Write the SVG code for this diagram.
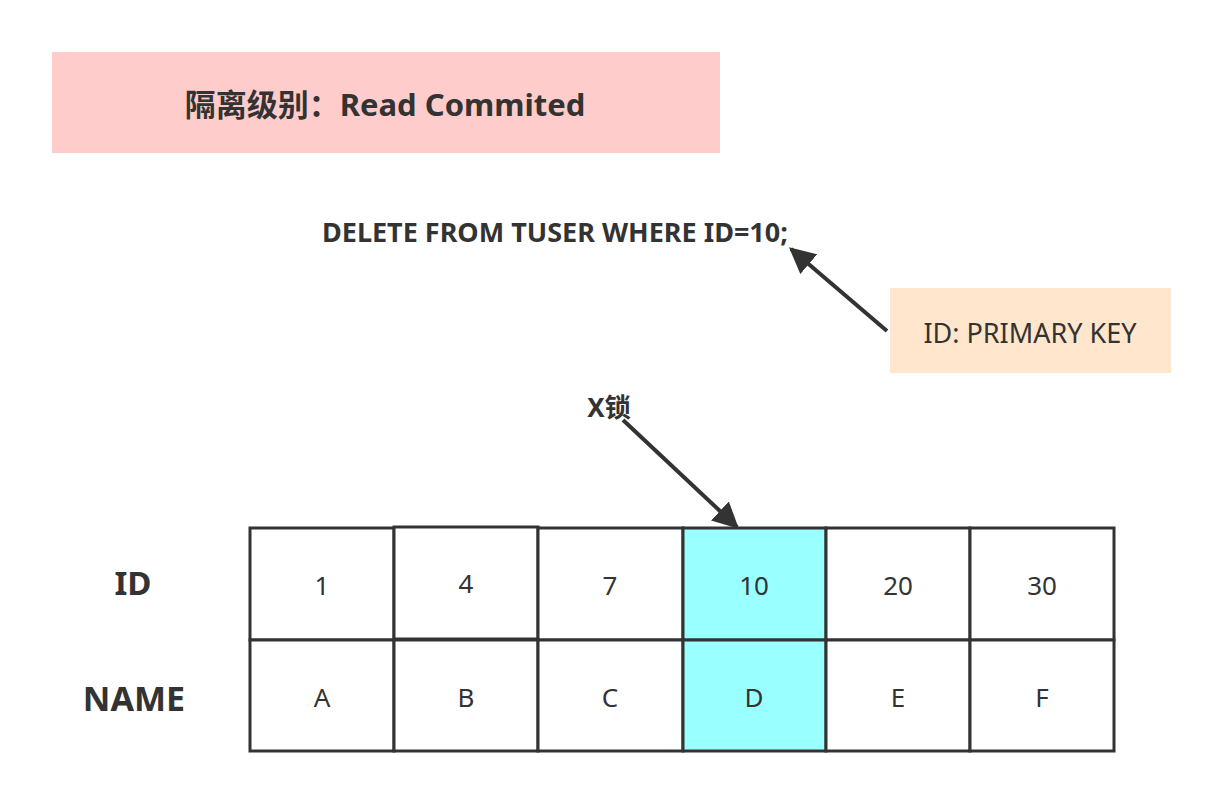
<svg xmlns="http://www.w3.org/2000/svg" width="1224" height="802" viewBox="0 0 1224 802">
<style>
text{font-family:"Noto Sans","Noto Sans CJK SC",sans-serif;fill:#333;text-anchor:middle;dominant-baseline:central}
.b{font-weight:bold}
.cell{fill:#fff;stroke:#333;stroke-width:3}
.hl{fill:#99FFFF}
.v{font-size:26px}
</style>
<defs>
<marker id="ah" viewBox="0 0 10 10" refX="9" refY="5" markerWidth="6.5" markerHeight="6.5" orient="auto" markerUnits="strokeWidth">
<path d="M0,0 L10,5 L0,10 Z" fill="#333"/>
</marker>
</defs>
<rect width="1224" height="802" fill="#fff"/>
<g id="title"><rect x="52" y="52" width="668" height="101" fill="#FFCCCC"/><text x="385" y="104" class="b" font-size="31">隔离级别：Read Commited</text></g>
<g id="sql"><text x="555" y="231" class="b" font-size="27">DELETE FROM TUSER WHERE ID=10;</text></g>
<g id="pk"><rect x="890" y="288" width="281" height="85" fill="#FFE6CC"/><text x="1030" y="332" font-size="27">ID: PRIMARY KEY</text></g>
<g id="xlock"><text x="609" y="407" class="b" font-size="26">X锁</text></g>
<g id="labels"><text x="133" y="582" class="b" font-size="33">ID</text><text x="134" y="698" class="b" font-size="34">NAME</text></g>
<g id="table">
<rect class="cell" x="250" y="528" width="144" height="112"/><text class="v" x="322" y="585">1</text>
<rect class="cell" x="394" y="527" width="144" height="112"/><text class="v" x="466" y="583">4</text>
<rect class="cell" x="538" y="528" width="145" height="112"/><text class="v" x="610" y="585">7</text>
<rect class="cell hl" x="683" y="528" width="143" height="112"/><text class="v" x="754" y="585">10</text>
<rect class="cell" x="826" y="528" width="144" height="112"/><text class="v" x="898" y="585">20</text>
<rect class="cell" x="970" y="528" width="144" height="112"/><text class="v" x="1042" y="585">30</text>
<rect class="cell" x="250" y="640" width="144" height="111"/><text class="v" x="322" y="697">A</text>
<rect class="cell" x="394" y="640" width="144" height="111"/><text class="v" x="466" y="697">B</text>
<rect class="cell" x="538" y="640" width="145" height="111"/><text class="v" x="610" y="697">C</text>
<rect class="cell hl" x="683" y="640" width="143" height="111"/><text class="v" x="754" y="697">D</text>
<rect class="cell" x="826" y="640" width="144" height="111"/><text class="v" x="898" y="697">E</text>
<rect class="cell" x="970" y="640" width="144" height="111"/><text class="v" x="1042" y="697">F</text>
</g>
<g id="connectors" stroke="#333" stroke-width="4" fill="none">
<line x1="887" y1="331" x2="791" y2="249" marker-end="url(#ah)"/>
<line x1="623" y1="420" x2="737" y2="527" marker-end="url(#ah)"/>
</g>
</svg>
